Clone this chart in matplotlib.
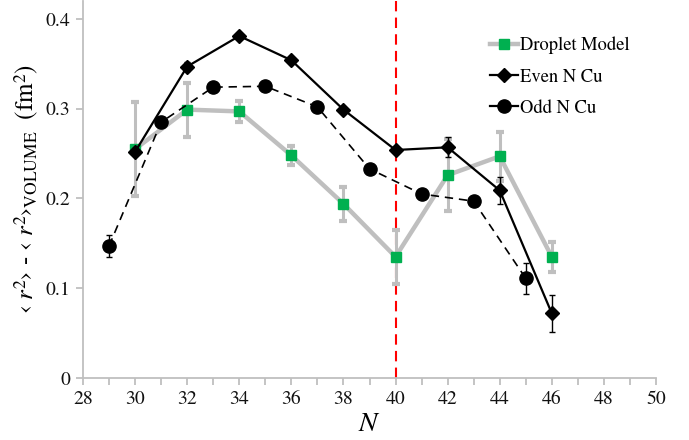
import matplotlib
matplotlib.use("Agg")
import matplotlib.pyplot as plt
from matplotlib.lines import Line2D
import numpy as np

SERIF = 'TeX Gyre Termes'
plt.rcParams['font.family'] = [SERIF, 'STIX Two Text', 'DejaVu Serif']
plt.rcParams['mathtext.fontset'] = 'custom'
plt.rcParams['mathtext.rm'] = SERIF
plt.rcParams['mathtext.it'] = SERIF + ':italic'
plt.rcParams['mathtext.bf'] = SERIF + ':bold'

# Data
droplet_N = [30, 32, 34, 36, 38, 40, 42, 44, 46]
droplet_val = [0.255, 0.299, 0.297, 0.248, 0.194, 0.135, 0.226, 0.247, 0.135]
droplet_err = [0.052, 0.030, 0.012, 0.011, 0.019, 0.030, 0.040, 0.027, 0.017]

even_N = [30, 32, 34, 36, 38, 40, 42, 44, 46]
even_val = [0.252, 0.347, 0.381, 0.354, 0.299, 0.254, 0.257, 0.209, 0.072]
even_err = [0.004, 0.005, 0.003, 0.003, 0.003, 0.003, 0.011, 0.015, 0.021]

odd_N = [29, 31, 33, 35, 37, 39, 41, 43, 45]
odd_val = [0.147, 0.285, 0.324, 0.325, 0.302, 0.233, 0.205, 0.197, 0.111]
odd_err = [0.012, 0.004, 0.003, 0.003, 0.003, 0.003, 0.003, 0.003, 0.017]

x_ticks = [28, 30, 32, 34, 36, 38, 40, 42, 44, 46, 48, 50]
y_ticks = [0, 0.1, 0.2, 0.3, 0.4]
y_ticklabels = ['0', '0.1', '0.2', '0.3', '0.4']

fig = plt.figure(figsize=(6.89, 4.40), dpi=100)
ax = fig.add_axes([83/689, 62/440, (656-83)/689, (378-1)/440])

grey = '#bfbfbf'
green = '#00b050'

ax.axvline(40, color='#ff0000', lw=1.5, ls=(0, (5, 3)), zorder=1)

ax.errorbar(droplet_N, droplet_val, yerr=droplet_err, color=grey, lw=3.2,
            marker='s', ms=7.5, mfc=green, mec=green, ecolor=grey,
            elinewidth=2.2, capsize=3, capthick=3, zorder=2)
ax.errorbar(even_N, even_val, yerr=even_err, color='black', lw=1.6,
            marker='D', ms=7, mfc='black', mec='black', ecolor='black',
            elinewidth=1.0, capsize=2.5, capthick=1.0, zorder=3)
ax.errorbar(odd_N, odd_val, yerr=odd_err, color='black', lw=1.2, ls=(0, (5, 3.5)),
            marker='o', ms=9.5, mfc='black', mec='black', ecolor='black',
            elinewidth=1.0, capsize=2.5, capthick=1.0, zorder=4)

ax.set_xlim(28, 50)
ax.set_ylim(0, 0.42)
ax.set_xticks(x_ticks)
ax.set_xticks(np.arange(29, 50, 2), minor=True)
ax.set_yticks(y_ticks)
ax.set_yticklabels(y_ticklabels)

for s in ['top', 'right']:
    ax.spines[s].set_visible(False)
for s in ['left', 'bottom']:
    ax.spines[s].set_color(grey)
    ax.spines[s].set_linewidth(1.3)

ax.tick_params(axis='both', which='both', direction='out', color=grey, width=1.3,
               labelsize=14.2, labelcolor='#111111')
ax.tick_params(axis='both', which='major', length=5, pad=4)
ax.tick_params(axis='x', which='minor', length=5)

ax.set_xlabel('$N$', fontsize=20, labelpad=3)
ax.set_ylabel('\u2039 $r^2$\u203a - \u2039 $r^2$\u203a$_{\\mathrm{VOLUME}}$  (fm$^2$)',
              fontsize=18, labelpad=3)

handles = [
    Line2D([], [], color=grey, lw=3.2, marker='s', ms=7.5, mfc=green, mec=green),
    Line2D([], [], color='black', lw=1.6, marker='D', ms=7, mfc='black', mec='black'),
    Line2D([], [], color='black', lw=1.6, marker='o', ms=9.5, mfc='black', mec='black'),
]
labels = ['Droplet Model', 'Even N Cu', 'Odd N Cu']
leg = ax.legend(handles, labels, loc='upper left', bbox_to_anchor=(0.71, 0.905),
                frameon=False, borderpad=0, borderaxespad=0,
                fontsize=13.4, handlelength=1.5, handletextpad=0.1, labelspacing=0.75)

fig.savefig('out.png', dpi=100)
